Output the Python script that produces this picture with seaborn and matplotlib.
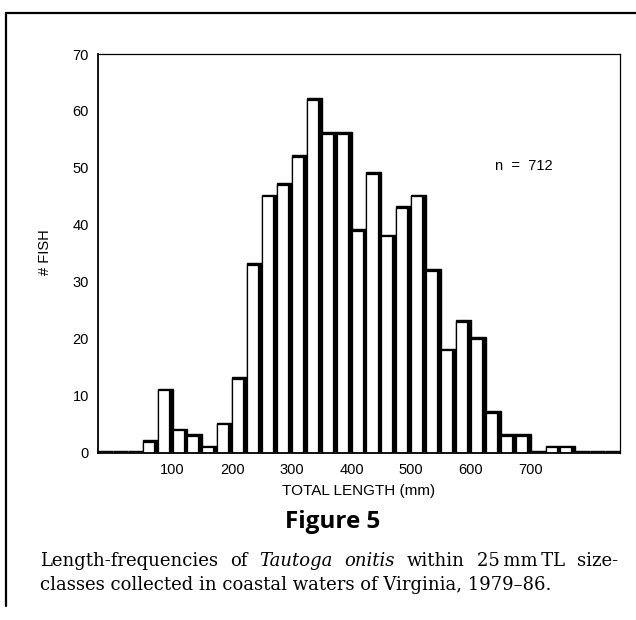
import numpy as np
import pandas as pd
import matplotlib
matplotlib.use("Agg")
import matplotlib.pyplot as plt
import matplotlib.transforms as mtransforms
from matplotlib.lines import Line2D
from matplotlib.ticker import FixedLocator, FuncFormatter
import seaborn as sns

# --- data: 25 mm TL size classes (lower edge, mm) and fish counts ---
class_start = list(range(-25, 850, 25))
fish_count = [0, 0, 0,
              2, 11, 4, 3, 1, 5, 13, 33, 45, 47, 52, 62, 56, 56,
              39, 49, 38, 43, 45, 32, 18, 23, 20, 7, 3, 3, 0, 1, 1,
              0, 0, 0]
bin_edges = class_start + [class_start[-1] + 25]
y_ticks = [0, 10, 20, 30, 40, 50, 60, 70]
x_labels = [100, 200, 300, 400, 500, 600, 700]

df = pd.DataFrame({"length": np.array(class_start) + 12.5, "count": fish_count})

sns.set_style("white")
plt.rcParams["font.family"] = ["Liberation Sans", "DejaVu Sans"]
plt.rcParams["text.color"] = "black"
plt.rcParams["axes.labelcolor"] = "black"

fig = plt.figure(figsize=(6.36, 6.2), dpi=100)
ax = fig.add_axes([0.154, 0.2694, 0.821, 0.6435])

# black backing bars, nudged up -> thick top edge
sns.histplot(data=df, x="length", weights="count", bins=bin_edges,
             color="black", edgecolor="black", linewidth=1.0, alpha=1, ax=ax)
raise_up = mtransforms.ScaledTranslation(0, 1.6 / 100, fig.dpi_scale_trans)
for p in ax.patches:
    p.set_transform(ax.transData + raise_up)
n_back = len(ax.patches)

# narrower white bars pushed to the left edge of each class -> thick right edge
shrink = 0.74
sns.histplot(data=df, x="length", weights="count", bins=bin_edges, shrink=shrink,
             color="white", edgecolor="black", linewidth=0.9, alpha=1, ax=ax)
to_left = mtransforms.Affine2D().translate(-(1 - shrink) / 2 * 25, 0)
for p in ax.patches[n_back:]:
    p.set_transform(to_left + ax.transData)

ax.set_xlim(-25, 850)
ax.set_ylim(0, 70)
ax.yaxis.set_major_locator(FixedLocator(y_ticks))
ax.xaxis.set_major_locator(FixedLocator(list(range(75, 800, 25)) + [850]))
ax.xaxis.set_major_formatter(FuncFormatter(lambda v, pos: f"{int(v)}" if int(v) in x_labels else ""))
ax.tick_params(axis="both", direction="out", length=3.5, width=0.9,
               labelsize=10.5, colors="black")
ax.tick_params(axis="x", pad=4)
ax.tick_params(axis="y", pad=3)
for side in ["left", "bottom"]:
    ax.spines[side].set_linewidth(1.3)
    ax.spines[side].set_color("black")
for side in ["top", "right"]:
    ax.spines[side].set_linewidth(0.9)
    ax.spines[side].set_color("black")

ax.set_xlabel("TOTAL LENGTH (mm)", fontsize=11, color="black")
ax.xaxis.set_label_coords(0.5, -0.077)
ax.set_ylabel("# FISH", fontsize=10.5, color="black")
ax.yaxis.set_label_coords(-0.088, 0.504)

ax.text(688, 50.4, "n  =  712", fontsize=10.5, ha="center", va="center", color="black")

# outer border (top and left)
fig.add_artist(Line2D([6 / 636, 6 / 636], [1 - 13 / 620, 1 - 606 / 620],
                      transform=fig.transFigure, color="black", lw=1.6))
fig.add_artist(Line2D([6 / 636, 1.0], [1 - 13 / 620, 1 - 13 / 620],
                      transform=fig.transFigure, color="black", lw=1.6))

fig.text(333 / 636, 1 - 528 / 620, "Figure 5", fontsize=17.5, fontweight="bold",
         family=["Open Sans", "DejaVu Sans"], ha="center", va="baseline", color="black")

# caption: two lines, first one justified between x0 and x1 (pixels)
x0, x1 = 40, 618
line2_width = 508
serif = ["DejaVu Serif"]
renderer = fig.canvas.get_renderer()

line2 = fig.text(x0 / 636, 1 - 590 / 620,
                 "classes collected in coastal waters of Virginia, 1979\u201386.",
                 fontsize=12, family=serif, ha="left", va="baseline", color="black")
w = line2.get_window_extent(renderer).width
cap_size = 12 * line2_width / w
line2.set_fontsize(cap_size)

words = [("Length-frequencies", "normal"), ("of", "normal"), ("Tautoga", "italic"),
         ("onitis", "italic"), ("within", "normal"), ("25\u2009mm\u2009TL", "normal"),
         ("size-", "normal")]
pieces = [fig.text(0, 1 - 566 / 620, t, fontsize=cap_size, family=serif, style=s,
                   ha="left", va="baseline", color="black") for t, s in words]
widths = [p.get_window_extent(renderer).width for p in pieces]
gap = (x1 - x0 - sum(widths)) / (len(pieces) - 1)
xpos = x0
for p, wd in zip(pieces, widths):
    p.set_x(xpos / 636)
    xpos += wd + gap

fig.savefig("out.png", dpi=100)
